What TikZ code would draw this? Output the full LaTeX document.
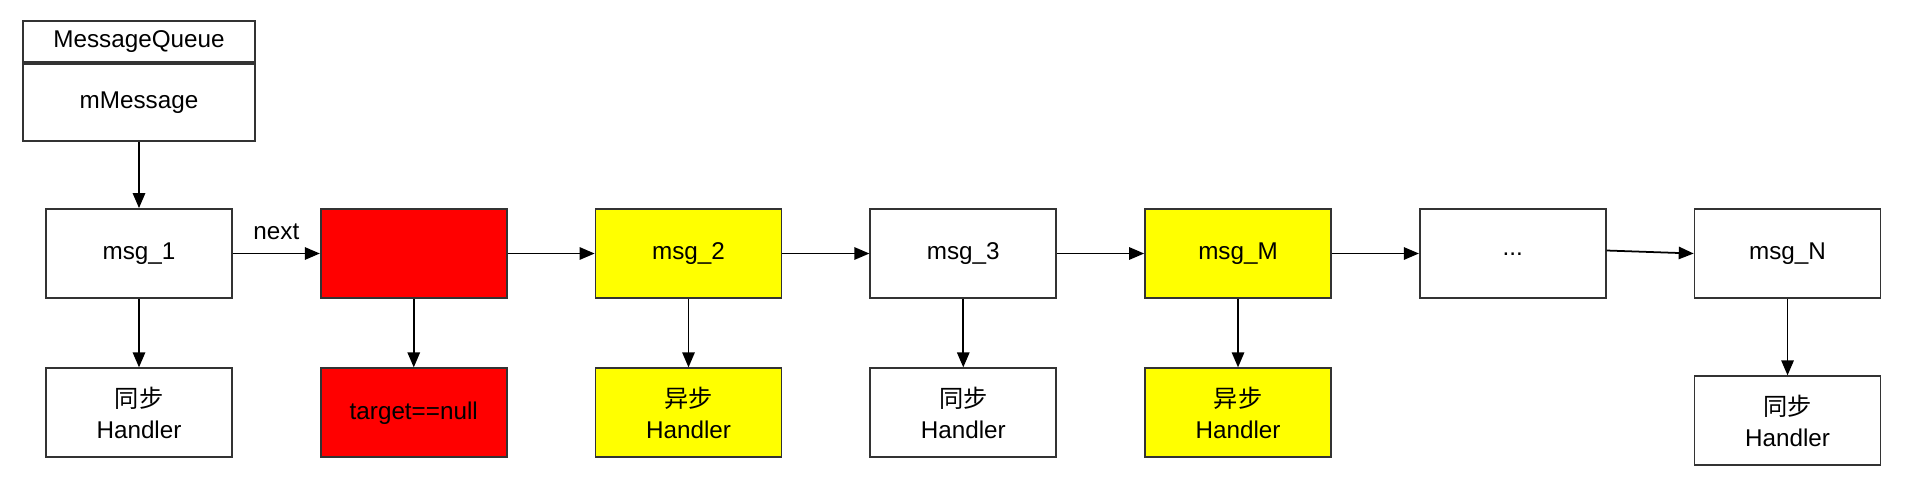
\documentclass[tikz,border=0pt]{standalone}
\usepackage{fontspec}
\setmainfont{Liberation Sans}
\newfontfamily\cjk{Noto Sans CJK SC}
\usetikzlibrary{arrows.meta, positioning}
\definecolor{asyncfill}{RGB}{255, 255, 0}
\definecolor{barrierfill}{RGB}{255, 0, 0}

\begin{document}
\begin{tikzpicture}[
                node distance=1.37cm and 1.74cm,
                msg/.style={rectangle, draw=black!80, line width=1pt, fill=white, minimum width=3.72cm, minimum height=1.78cm, align=center, font=\fontsize{13.8}{17.6}\selectfont},
                async/.style={msg, fill=asyncfill},
                barrier/.style={msg, fill=barrierfill},
                queue/.style={msg, minimum width=4.64cm},
                arrow/.style={line width=1pt, -{Triangle[length=8.5pt,width=7pt]}}
            ]%
            \useasboundingbox[fill=white] (0,0) rectangle (38.24,-10.04);
            %
            % MessageQueue
            \node[queue, minimum height=0.82cm] (mq) at (2.78,-0.83) {MessageQueue};
            \node[queue, minimum height=1.54cm, below=0cm of mq] (mqbody) {mMessage};
            %
            % === Cola de mensajes ===
            \node[msg] (msg1) at (2.78,-5.07) {msg\_1};
            \node[barrier, right=of msg1] (bar) {};
            \node[async, right=of bar] (msg2) {msg\_2};
            \node[msg, right=of msg2] (msg3) {msg\_3};
            \node[async, right=of msg3] (msgM) {msg\_M};
            \node[msg, right=of msgM] (dots) {\raisebox{-2pt}{...}};
            \node[msg, right=of dots] (msgN) {msg\_N};
            %
            % === Handlers ===
            \node[msg, below=of msg1] (h1) {{\cjk 同步}\\Handler};
            \node[barrier, below=of bar] (hbar) {target==null};
            \node[async, below=of msg2] (h2) {{\cjk 异步}\\Handler};
            \node[msg, below=of msg3] (h3) {{\cjk 同步}\\Handler};
            \node[async, below=of msgM] (hM) {{\cjk 异步}\\Handler};
            \node[msg, below=1.53cm of msgN] (hN) {{\cjk 同步}\\Handler};
            %
            % Conexiones
            \draw[arrow] (mqbody.south) -- (msg1.north);
            \draw[arrow] (msg1.east) -- node[above=4pt, font=\fontsize{13.8}{17.6}\selectfont] {next} (bar.west);
            \draw[arrow] (bar.east) -- (msg2.west);
            \draw[arrow] (msg2.east) -- (msg3.west);
            \draw[arrow] (msg3.east) -- (msgM.west);
            \draw[arrow] (msgM.east) -- (dots.west);
            \draw[arrow] ([yshift=0.06cm]dots.east) -- (msgN.west);
            %
            \draw[arrow] (msg1.south) -- (h1.north);
            \draw[arrow] (bar.south) -- (hbar.north);
            \draw[arrow] (msg2.south) -- (h2.north);
            \draw[arrow] (msg3.south) -- (h3.north);
            \draw[arrow] (msgM.south) -- (hM.north);
            \draw[arrow] (msgN.south) -- (hN.north);
        \end{tikzpicture}
\end{document}
